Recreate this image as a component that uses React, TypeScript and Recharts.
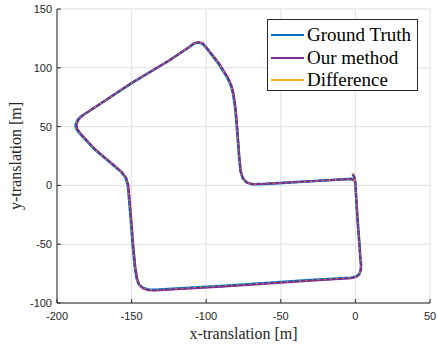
import { LineChart, Line, XAxis, YAxis, CartesianGrid, Label } from 'recharts';

// axis ticks
const xTicks = [-200, -150, -100, -50, 0, 50];
const yTicks = [-100, -50, 0, 50, 100, 150];

// ground truth trajectory (starts at the small hook near the origin)
const gtX = [
  -1.8, -0.5, 0, 0.5, 1.5, 2.7, 3.3, 3.8, 3.6, 2.5, 0.5, -3, -30, -60, -90, -120, -134, -139, -142.5, -145,
  -146.5, -147.8, -149.3, -150.5, -151.8, -152.5, -154, -157, -162, -175, -185, -187.3, -187.5, -186, -183.5, -175,
  -150, -125, -112, -108, -105, -102.5, -100, -92, -86, -83.5, -82, -80.5, -79.5, -78, -77, -75.5, -73, -69,
  -60, -30, -10, -3, -0.5,
];
const gtY = [
  10, 6, 2, -10, -30, -50, -62, -68, -72, -75.5, -77.5, -78.5, -80.5, -83, -85.5, -87.8, -88.8, -88.5, -87, -84.5,
  -80, -70, -50, -30, -10, 0, 6.5, 11.5, 17, 31, 44.5, 48.5, 52, 56, 59, 66,
  87, 106, 117, 120.8, 121.5, 120.5, 117, 104, 92, 85, 78, 65, 50, 25, 12, 6, 2.5, 1,
  1.3, 3.5, 5, 5.5, 4,
];

// our method: nearly on top of ground truth, small drift on the left and bottom legs
const estX = [
  -1.8, -0.5, 0, 0.5, 1.5, 2.7, 3.3, 3.8, 3.6, 2.5, 0.5, -3, -30, -60, -90, -120, -134, -139, -142.3, -144.7,
  -146.1, -147.4, -148.9, -150.1, -151.4, -152.1, -153.6, -156.6, -161.6, -174.6, -184.4, -186.6, -186.8, -185.4, -183, -174.6,
  -149.8, -124.8, -111.8, -107.8, -104.8, -102.1, -99.5, -91.5, -85.5, -83.1, -81.6, -80.2, -79.2, -77.8, -76.8, -75.3, -72.8, -69,
  -60, -30, -10, -3, -0.5,
];
const estY = [
  10, 6, 2, -10, -30, -50, -62, -68, -72, -75.7, -78, -79, -81.1, -83.6, -86.1, -88.4, -89.4, -89.1, -87.5, -84.8,
  -80, -70, -50, -30, -10, 0, 6.5, 11.5, 17, 31, 44.5, 48.5, 52, 56, 59.2, 66.3,
  87.3, 106.3, 117.3, 121.1, 121.8, 120.8, 117, 104, 92, 85, 78, 65, 50, 25, 12, 6, 2.5, 1,
  1.3, 3.5, 5, 5.5, 4,
];

const gtData = gtX.map((x, i) => ({ x, y: gtY[i] }));
const estData = estX.map((x, i) => ({ x, y: estY[i] }));

const AXIS = '#262626';
const tickFont = { fontSize: 11, fill: AXIS, fontFamily: '"Liberation Sans", Arial, sans-serif' };
const serif = '"Liberation Serif", "Times New Roman", serif';

const legendItems = [
  { name: 'Ground Truth', color: '#0072BD' },
  { name: 'Our method', color: '#7E2F8E' },
  { name: 'Difference', color: '#EDB120' },
];

export default function App() {
  return (
    <div style={{ position: 'absolute', left: 0, top: 0, width: 438, height: 349, background: '#fff' }}>
      <LineChart width={438} height={349} margin={{ top: 9, right: 8, bottom: 0, left: 7 }}>
        <CartesianGrid stroke="#dfdfdf" strokeWidth={1} xAxisId="b" yAxisId="l" />
        <XAxis
          xAxisId="b"
          type="number"
          dataKey="x"
          domain={[-200, 50]}
          ticks={xTicks}
          allowDataOverflow
          height={46}
          tick={tickFont}
          tickSize={-4}
          tickMargin={13}
          stroke={AXIS}
          axisLine={{ stroke: AXIS }}
          tickLine={{ stroke: AXIS }}
        >
          <Label
            content={() => (
              <text x={243.5} y={339} textAnchor="middle" fontSize={16} fontFamily={serif} fill={AXIS}>
                x-translation [m]
              </text>
            )}
          />
        </XAxis>
        <XAxis
          xAxisId="t"
          orientation="top"
          type="number"
          dataKey="x"
          domain={[-200, 50]}
          ticks={xTicks}
          allowDataOverflow
          height={0}
          tick={false}
          tickSize={-4}
          stroke={AXIS}
        />
        <YAxis
          yAxisId="l"
          type="number"
          dataKey="y"
          domain={[-100, 150]}
          ticks={yTicks}
          allowDataOverflow
          width={50}
          tick={tickFont}
          tickSize={-4}
          tickMargin={9}
          stroke={AXIS}
        >
          <Label
            content={() => (
              <text
                x={21}
                y={156}
                transform="rotate(-90 21 156)"
                textAnchor="middle"
                fontSize={16}
                fontFamily={serif}
                fill={AXIS}
              >
                y-translation [m]
              </text>
            )}
          />
        </YAxis>
        <YAxis
          yAxisId="r"
          orientation="right"
          type="number"
          dataKey="y"
          domain={[-100, 150]}
          ticks={yTicks}
          allowDataOverflow
          width={0}
          tick={false}
          tickSize={-4}
          stroke={AXIS}
        />
        <Line
          xAxisId="b"
          yAxisId="l"
          data={gtData}
          dataKey="y"
          type="linear"
          stroke="#0072BD"
          strokeWidth={2.6}
          dot={false}
          isAnimationActive={false}
        />
        <Line
          xAxisId="b"
          yAxisId="l"
          data={estData}
          dataKey="y"
          type="linear"
          stroke="#7E2F8E"
          strokeWidth={2}
          dot={false}
          isAnimationActive={false}
        />
        <Line
          xAxisId="b"
          yAxisId="l"
          data={gtData}
          dataKey="y"
          type="linear"
          stroke="#EDB120"
          strokeWidth={1.2}
          strokeDasharray="1.2 5"
          dot={false}
          isAnimationActive={false}
        />
      </LineChart>

      {/* legend box, top right */}
      <div
        style={{
          position: 'absolute',
          left: 267,
          top: 19,
          width: 149,
          height: 70,
          border: `1px solid ${AXIS}`,
          background: '#fff',
          fontFamily: serif,
          fontSize: 19,
          color: '#000',
        }}
      >
        {legendItems.map((it, i) => (
          <div
            key={it.name}
            style={{ position: 'absolute', left: 3, top: 4 + i * 22.5, height: 22, display: 'flex', alignItems: 'center' }}
          >
            <span style={{ display: 'inline-block', width: 33, height: 2, background: it.color, marginRight: 3 }} />
            <span style={{ lineHeight: '22px', whiteSpace: 'nowrap' }}>{it.name}</span>
          </div>
        ))}
      </div>
    </div>
  );
}
